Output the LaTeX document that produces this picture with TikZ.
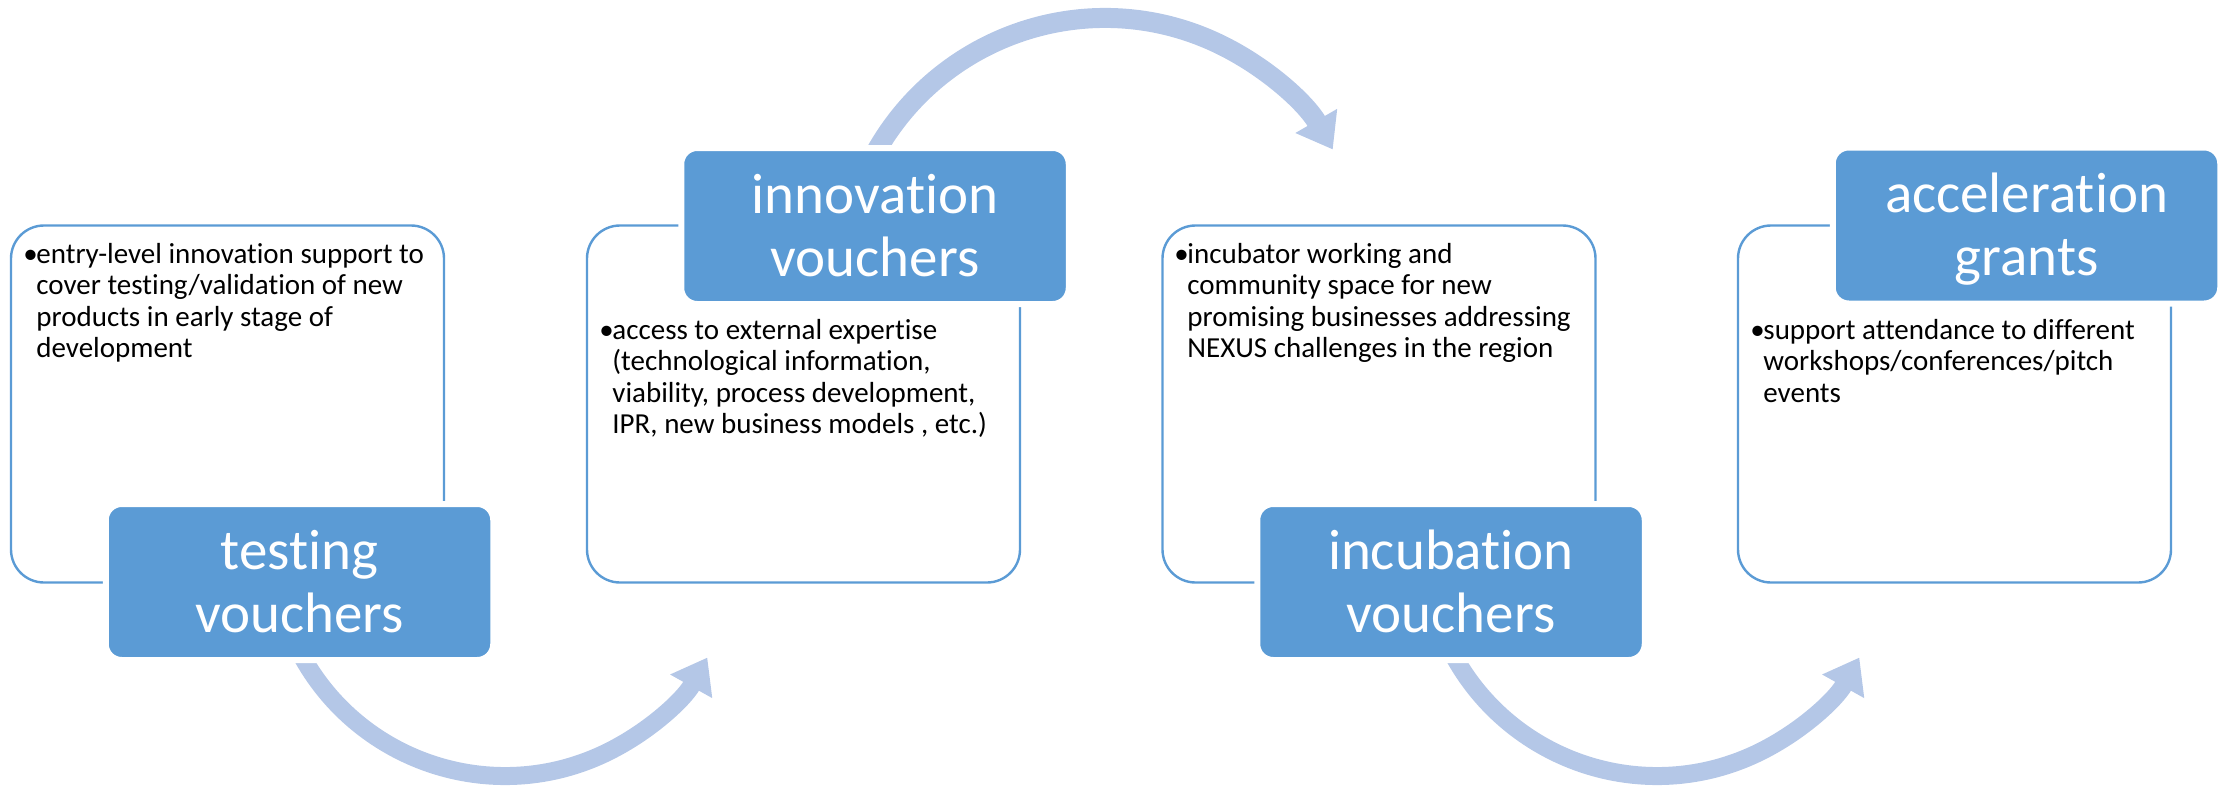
\documentclass[tikz,border=0pt]{standalone}
\usepackage{fontspec}
\setmainfont{Carlito}[Ligatures=NoCommon]
\usetikzlibrary{arrows.meta}
\definecolor{boxblue}{HTML}{5B9BD5}
\definecolor{arrowblue}{HTML}{B4C7E7}
\begin{document}
\begin{tikzpicture}[x=0.5pt,y=-0.5pt,
  card/.style={draw=boxblue, line width=1.2pt, fill=white, rounded corners=16.5pt,
    minimum width=216.5pt, minimum height=178.5pt, inner sep=0pt},
  titlebox/.style={fill=boxblue, draw=white, line width=3pt, rounded corners=8pt,
    minimum width=193.75pt, minimum height=78pt, inner sep=0pt, text=white,
    align=center, font=\fontsize{28.5}{31.5}\selectfont},
  bodytext/.style={anchor=north west, align=left, inner sep=0pt,
    font=\fontsize{14.5}{15.7}\selectfont},
  flow/.style={draw=arrowblue, line width=9pt, -{Triangle[width=23pt,length=16.5pt]}}
]
\useasboundingbox (0,0) rectangle (2224,787);
\newcommand{\tfirst}{\rule{0pt}{25pt}}
\newcommand{\tlast}{\rule[-6.5pt]{0pt}{6.5pt}}
\newcommand{\bfirst}{\rule{0pt}{11pt}\llap{\makebox[6.5pt][l]{•}}}

% arrows (behind)
\coordinate (a1s) at (294.74,642.05);
\coordinate (a2s) at (866.64,169.85);
\coordinate (a3s) at (1446.74,642.05);
\draw[flow] (a1s) arc[start angle=155, end angle=29.3, radius=232];
\draw[flow, line width=10pt] (a2s) arc[start angle=205, end angle=330, radius=263];
\draw[flow] (a3s) arc[start angle=155, end angle=29.3, radius=232];

% cards
\node[card] (c1) at (227.5,404) {};
\node[card] (c2) at (803.5,404) {};
\node[card] (c3) at (1379,404) {};
\node[card] (c4) at (1954.5,404) {};

% title boxes
\node[titlebox] (t1) at (299.5,582) {\tfirst testing\\vouchers\tlast};
\node[titlebox] (t2) at (875,226) {\tfirst innovation\\vouchers\tlast};
\node[titlebox] (t3) at (1451,582) {\tfirst incubation\\vouchers\tlast};
\node[titlebox] (t4) at (2026.5,225.5) {\tfirst acceleration\\grants\tlast};

% body texts
\node[bodytext] (b1) at (36,241) {\bfirst entry-level innovation support to\\cover testing/validation of new\\products in early stage of\\development};
\node[bodytext] (b2) at (612,317) {\bfirst access to external expertise\\(technological information,\\viability, process development,\\IPR, new business models , etc.)};
\node[bodytext] (b3) at (1187,241) {\bfirst incubator working and\\community space for new\\promising businesses addressing\\NEXUS challenges in the region};
\node[bodytext] (b4) at (1763,317) {\bfirst support attendance to different\\workshops/conferences/pitch\\events};
\end{tikzpicture}
\end{document}
